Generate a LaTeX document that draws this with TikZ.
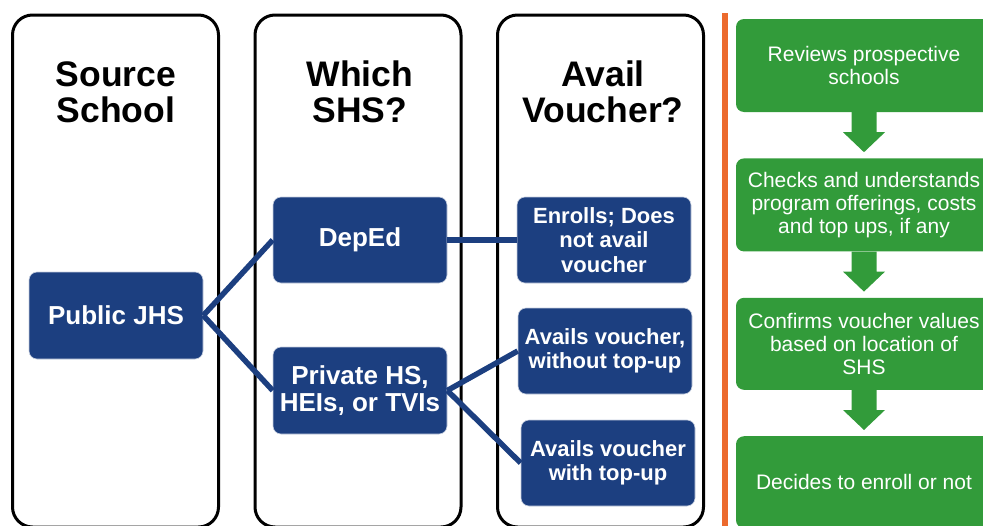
\documentclass[tikz,border=0pt]{standalone}
\usepackage{fontspec}
\setmainfont{Liberation Sans}
\usepackage{xcolor}
\usepackage{tikz}
\usetikzlibrary{positioning,calc}

\definecolor{navyc}{RGB}{28,63,128}
\definecolor{greenc}{RGB}{50,155,58}
\definecolor{orangec}{RGB}{236,106,45}

\begin{document}
\begin{tikzpicture}[x=1pt, y=-1pt, node distance=46pt,
  colbox/.style={draw=black, line width=3pt, rounded corners=20pt, minimum width=206pt, minimum height=512pt},
  title/.style={font=\fontsize{35.5}{36}\selectfont\bfseries, align=center},
  bluebox/.style={fill=navyc, draw=white!75!navyc, line width=0.6pt, rounded corners=8pt, text=white, minimum width=174pt, minimum height=86pt, align=center, inner sep=0pt, font=\fontsize{26}{27}\selectfont\bfseries},
  availbox/.style={bluebox, font=\fontsize{22}{24.5}\selectfont\bfseries},
  stepbox/.style={fill=greenc, rounded corners=8pt, text=white, minimum width=256pt, minimum height=93pt, align=center, inner sep=0pt, font=\fontsize{21}{23}\selectfont},
  link/.style={draw=navyc, line width=5.5pt}]
\useasboundingbox (0,0) rectangle (983,525);
\clip (0,0) rectangle (983,525);
% three columns
\node[colbox] (colsrc) at (115.5,271) {};
\node[colbox] (colshs) at (358,271) {};
\node[colbox] (colvou) at (600.5,271) {};
\node[title] (tsrc) at (116,92) {Source\\School};
\node[title] (tshs) at (360,92) {Which\\SHS?};
\node[title] (tvou) at (603,92) {Avail\\Voucher?};
% choices
\node[bluebox, minimum height=87pt] (pub) at (116,315.5) {Public JHS};
\node[bluebox] (deped) at (360,240) {DepEd};
\node[bluebox, minimum height=87pt] (priv) at (360,390.5) {Private HS,\\HEIs, or TVIs};
\node[availbox] (enr) at (604,240) {Enrolls; Does\\not avail\\voucher};
\node[availbox] (novou) at (605,351) {Avails voucher,\\without top-up};
\node[availbox] (topup) at (608,463) {Avails voucher\\with top-up};
\draw[link] (pub.east) -- (deped.west);
\draw[link] (pub.east) -- (priv.west);
\draw[link] (deped.east) -- (enr.west);
\draw[link] (priv.east) -- (novou.west);
\draw[link] (priv.east) -- (topup.west);
% separator
\coordinate (septop) at (725,13);
\coordinate (sepbot) at (725,530);
\draw[orangec, line width=6pt] (septop) -- (sepbot);
% steps
\node[stepbox] (g1) at (864,65.5) {Reviews prospective\\schools};
\node[stepbox, below=of g1] (g2) {Checks and understands\\program offerings, costs\\and top ups, if any};
\node[stepbox, below=of g2, minimum height=92pt] (g3) {Confirms voucher values\\based on location of\\SHS};
\node[stepbox, below=of g3, minimum height=92pt] (g4) {Decides to enroll or not};
\foreach \a in {g1,g2,g3}
  \fill[greenc] (\a.south) ++(-12.5,0) -- ++(25,0) -- ++(0,20) -- ++(8.5,0) -- ++(-21,20) -- ++(-21,-20) -- ++(8.5,0) -- cycle;
\end{tikzpicture}
\end{document}
